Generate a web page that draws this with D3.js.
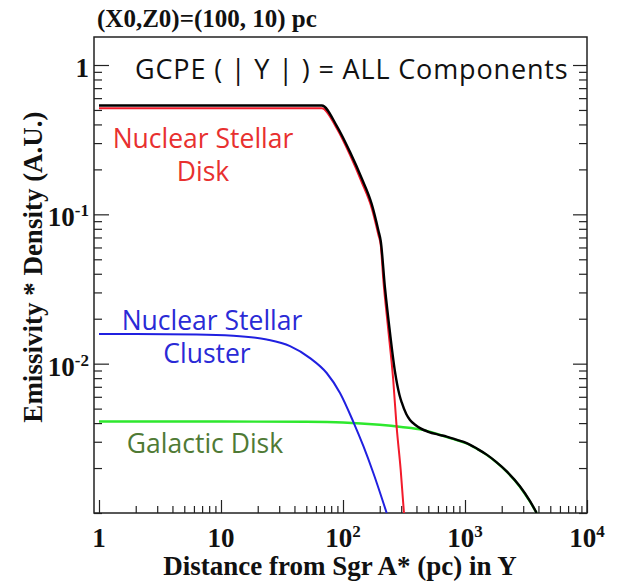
<!DOCTYPE html>
<html>
<head>
<meta charset="utf-8">
<script src="https://cdn.jsdelivr.net/npm/d3@7"></script>
<style>
  body { margin: 0; background: #fff; }
  .serif { font-family: "Liberation Serif", "Times New Roman", serif; font-weight: bold; }
  .sans { font-family: "Open Sans", Lato, sans-serif; }
</style>
</head>
<body>
<svg width="617" height="583"></svg>
<script>
// Nuclear Stellar Disk (red)
const nsdX = [1, 67, 89, 114, 142, 172, 195, 204, 214, 235, 258, 275, 297, 316];
const nsdY = [0.514, 0.514, 0.375, 0.25, 0.165, 0.11, 0.073, 0.062, 0.0365, 0.0169, 0.0078, 0.0038, 0.00195, 0.001];

// Nuclear Stellar Cluster (blue)
const nscX = [1, 6.3, 12.6, 23.7, 36.8, 53.7, 73.5, 94.5, 121, 147, 177, 228];
const nscY = [0.0158, 0.0157, 0.0154, 0.0145, 0.0131, 0.0109, 0.00866, 0.00637, 0.00411, 0.0028, 0.00186, 0.001];

// Galactic Disk (green)
const gdX = [1, 10, 50, 100, 200, 300, 450, 600, 700, 850, 1032, 1250, 1506, 1800, 2198, 2818, 3410, 3867];
const gdY = [0.0041, 0.0041, 0.00408, 0.00404, 0.0039, 0.00377, 0.0036, 0.00338, 0.00323, 0.00308, 0.00292, 0.00269, 0.00245, 0.00219, 0.00189, 0.0015, 0.00119, 0.001];

// all components (black)
const totX = [1, 67, 89, 114, 142, 172, 195, 204, 221, 243, 267, 290, 303, 330, 354, 390, 428, 500, 603, 707, 850, 1032, 1250, 1506, 1800, 2198, 2818, 3410, 3867];
const totY = [0.536, 0.536, 0.39, 0.262, 0.175, 0.117, 0.078, 0.066, 0.032, 0.016, 0.0088, 0.0062, 0.0055, 0.0046, 0.0042, 0.0039, 0.0037, 0.0035, 0.00335, 0.00325, 0.0031, 0.00294, 0.0027, 0.00246, 0.0022, 0.0019, 0.00151, 0.0012, 0.001];

const xMajor = [1, 10, 100, 1000, 10000];
const xLabels = [["1", ""], ["10", ""], ["10", "2"], ["10", "3"], ["10", "4"]];
const yMajor = [1, 0.1, 0.01];
const yLabels = [["1", ""], ["10", "-1"], ["10", "-2"]];

let pLeft = 94, pRight = 587, pTop = 37, pBottom = 513;

let svg = d3.select("svg");

let x = d3.scaleLog().domain([0.91, 1e4]).range([pLeft, pRight]);
let y = d3.scaleLog().domain([1e-3, 1.54]).range([pBottom, pTop]);

let xMinor = x.ticks().filter(v => !xMajor.includes(v));
let yMinor = y.ticks().filter(v => !yMajor.includes(v) && v <= 1.54);

svg.append("clipPath").attr("id", "clip")
    .append("rect")
    .attr("x", pLeft).attr("y", pTop)
    .attr("width", pRight - pLeft).attr("height", pBottom - pTop);

// ticks (inside the frame, ROOT style)
let addAxis = (axis, tr) => {
    let g = svg.append("g").attr("transform", tr).call(axis);
    g.select(".domain").remove();
    g.selectAll("line").attr("stroke", "#222").attr("stroke-width", 1.2);
    g.selectAll("text").remove();
};

addAxis(d3.axisBottom(x).tickValues(xMajor).tickSize(-13), "translate(0," + pBottom + ")");
addAxis(d3.axisBottom(x).tickValues(xMinor).tickSize(-7), "translate(0," + pBottom + ")");
addAxis(d3.axisLeft(y).tickValues(yMajor).tickSize(-15), "translate(" + pLeft + ",0)");
addAxis(d3.axisLeft(y).tickValues(yMinor).tickSize(-8), "translate(" + pLeft + ",0)");
addAxis(d3.axisRight(y).tickValues(yMajor).tickSize(-14), "translate(" + pRight + ",0)");
addAxis(d3.axisRight(y).tickValues(yMinor).tickSize(-8), "translate(" + pRight + ",0)");

// frame
svg.append("rect")
    .attr("x", pLeft).attr("y", pTop)
    .attr("width", pRight - pLeft).attr("height", pBottom - pTop)
    .attr("fill", "none").attr("stroke", "#222").attr("stroke-width", 1.5);

// curves
let line = d3.line()
    .x(d => x(d[0]))
    .y(d => y(d[1]))
    .curve(d3.curveMonotoneX);

let series = [
    {xs: gdX, ys: gdY, color: "#2ee82e", w: 2.4},
    {xs: nscX, ys: nscY, color: "#2020e0", w: 2},
    {xs: nsdX, ys: nsdY, color: "#f21b2b", w: 2},
    {xs: totX, ys: totY, color: "#000", w: 2.4}
];

svg.append("g").attr("clip-path", "url(#clip)")
    .selectAll("path")
    .data(series)
    .enter()
    .append("path")
    .attr("d", s => line(s.xs.map((v, i) => [v, s.ys[i]])))
    .attr("fill", "none")
    .attr("stroke", s => s.color)
    .attr("stroke-width", s => s.w)
    .attr("stroke-linejoin", "round");

// tick labels
let xl = svg.append("g").attr("class", "serif").attr("font-size", 27).attr("fill", "#111");
xMajor.forEach((v, i) => {
    let t = xl.append("text")
        .attr("x", x(v)).attr("y", 547)
        .attr("text-anchor", "middle");
    t.append("tspan").text(xLabels[i][0]);
    if (xLabels[i][1]) {
        t.append("tspan").attr("dy", -10).attr("font-size", 17).text(xLabels[i][1]);
    }
});

let yl = svg.append("g").attr("class", "serif").attr("font-size", 27).attr("fill", "#111");
yMajor.forEach((v, i) => {
    let t = yl.append("text")
        .attr("x", 89).attr("y", y(v) + 12)
        .attr("text-anchor", "end");
    t.append("tspan").text(yLabels[i][0]);
    if (yLabels[i][1]) {
        t.append("tspan").attr("dy", -10).attr("font-size", 17).text(yLabels[i][1]);
    }
});

// axis titles
svg.append("text").attr("class", "serif")
    .attr("x", 340).attr("y", 575)
    .attr("text-anchor", "middle")
    .attr("font-size", 27).attr("fill", "#111")
    .text("Distance from Sgr A* (pc) in Y");

svg.append("text").attr("class", "serif")
    .attr("transform", "translate(42,267) rotate(-90)")
    .attr("text-anchor", "middle")
    .attr("font-size", 27).attr("fill", "#111")
    .text("Emissivity * Density (A.U.)");

svg.append("text").attr("class", "serif")
    .attr("x", 97).attr("y", 27)
    .attr("font-size", 25).attr("fill", "#111")
    .text("(X0,Z0)=(100, 10) pc");

// title inside the frame
svg.append("text").attr("class", "sans")
    .attr("x", 135).attr("y", 79)
    .attr("font-size", 27).attr("letter-spacing", 0.85).attr("fill", "#111")
    .text("GCPE ( | Y | ) = ALL Components");

// component labels
let notes = [
    {t: "Nuclear Stellar", x: 203, y: 148, c: "#e8302f"},
    {t: "Disk", x: 203, y: 181, c: "#e8302f"},
    {t: "Nuclear Stellar", x: 212, y: 330, c: "#2a2ad6"},
    {t: "Cluster", x: 207, y: 363, c: "#2a2ad6"},
    {t: "Galactic Disk", x: 205, y: 453, c: "#4f7a35"}
];
svg.append("g").attr("class", "sans")
    .selectAll("text")
    .data(notes)
    .enter()
    .append("text")
    .attr("x", d => d.x).attr("y", d => d.y)
    .attr("text-anchor", "middle")
    .attr("font-size", 26.5)
    .attr("fill", d => d.c)
    .text(d => d.t);
</script>
</body>
</html>
